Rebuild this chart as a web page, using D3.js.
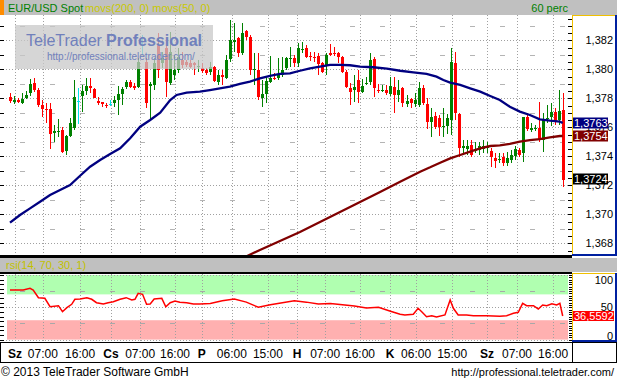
<!DOCTYPE html>
<html>
<head>
<meta charset="utf-8">
<script src="https://cdn.jsdelivr.net/npm/d3@7"></script>
<style>
  body { margin: 0; background: #fff; }
  svg { display: block; font-family: 'Liberation Sans', Arial, sans-serif; }
</style>
</head>
<body>
<svg id="chart" width="618" height="381"></svg>
<script>
// hourly EUR/USD candles
const opens = [1.37807,1.37777,1.37788,1.37770,1.37804,1.37835,1.37904,1.37857,1.37754,1.37726,
  1.37724,1.37563,1.37568,1.37581,1.37439,1.37540,1.37593,1.37780,1.37816,1.37852,
  1.37885,1.37862,1.37784,1.37772,1.37754,1.37761,1.37766,1.37788,1.37830,1.37876,
  1.37910,1.37885,1.37880,1.38168,1.38053,1.37887,1.37892,1.38168,1.38044,1.38147,
  1.37906,1.37961,1.37995,1.38064,1.38053,1.38046,1.38041,1.38014,1.38007,1.37995,
  1.37983,1.38018,1.37915,1.37961,1.37938,1.38069,1.38190,1.38214,1.38110,1.38264,
  1.38225,1.37995,1.37995,1.37800,1.37830,1.37915,1.37938,1.37938,1.37961,1.38007,
  1.38071,1.38076,1.38041,1.38133,1.38145,1.38092,1.38087,1.38092,1.38041,1.38023,
  1.38115,1.38115,1.38110,1.38087,1.37983,1.37869,1.37857,1.37926,1.37846,1.37899,
  1.37915,1.38069,1.37857,1.37850,1.37857,1.37830,1.37880,1.37823,1.37869,1.37761,
  1.37793,1.37761,1.37754,1.37869,1.37761,1.37639,1.37678,1.37662,1.37600,1.37609,
  1.37650,1.38046,1.37692,1.37455,1.37448,1.37478,1.37437,1.37443,1.37448,1.37455,
  1.37439,1.37386,1.37374,1.37397,1.37356,1.37374,1.37402,1.37443,1.37421,1.37669,
  1.37581,1.37588,1.37593,1.37512,1.37657,1.37673,1.37708,1.37650,1.37719]
const highs = [1.37835,1.37816,1.37800,1.37835,1.37852,1.37933,1.37938,1.37869,1.37788,1.37770,
  1.37770,1.37616,1.37655,1.37604,1.37547,1.37662,1.37926,1.37869,1.37892,1.37938,
  1.37938,1.37869,1.37811,1.37777,1.37766,1.37788,1.37816,1.37885,1.37880,1.37926,
  1.37926,1.37904,1.38078,1.38237,1.38078,1.37915,1.38078,1.38250,1.38119,1.38168,
  1.38259,1.38099,1.38147,1.38119,1.38064,1.38064,1.38053,1.38064,1.38041,1.38007,
  1.38053,1.38023,1.37995,1.37995,1.38099,1.38340,1.38321,1.38225,1.38317,1.38271,
  1.38237,1.38110,1.38110,1.37926,1.37949,1.38092,1.37972,1.38076,1.38087,1.38087,
  1.38156,1.38099,1.38179,1.38190,1.38168,1.38121,1.38121,1.38110,1.38053,1.38110,
  1.38175,1.38156,1.38121,1.38092,1.37995,1.37904,1.37961,1.37995,1.37931,1.37949,
  1.38110,1.38087,1.37899,1.37892,1.37892,1.37949,1.37949,1.37926,1.37880,1.37823,
  1.37800,1.37835,1.37915,1.37892,1.37800,1.37731,1.37708,1.37685,1.37731,1.37692,
  1.38145,1.38121,1.37701,1.37512,1.37512,1.37512,1.37501,1.37501,1.37512,1.37501,
  1.37455,1.37421,1.37421,1.37421,1.37432,1.37443,1.37471,1.37455,1.37673,1.37701,
  1.37628,1.37616,1.37777,1.37701,1.37754,1.37770,1.37731,1.37857,1.37835]
const lows = [1.37766,1.37761,1.37766,1.37761,1.37793,1.37816,1.37846,1.37742,1.37669,1.37628,
  1.37452,1.37501,1.37535,1.37425,1.37409,1.37535,1.37581,1.37623,1.37708,1.37823,
  1.37835,1.37800,1.37754,1.37742,1.37735,1.37749,1.37742,1.37685,1.37754,1.37864,
  1.37869,1.37857,1.37871,1.38099,1.37733,1.37650,1.37857,1.37938,1.38009,1.37811,
  1.37892,1.37926,1.37975,1.38009,1.38016,1.38009,1.37961,1.37983,1.37977,1.37961,
  1.37961,1.37915,1.37892,1.37892,1.37931,1.38053,1.38121,1.38087,1.38099,1.38202,
  1.37961,1.37892,1.37788,1.37742,1.37766,1.37904,1.37926,1.37926,1.37949,1.37995,
  1.38018,1.38018,1.38018,1.38110,1.38076,1.38059,1.38053,1.37961,1.37972,1.37961,
  1.38092,1.38092,1.38041,1.37972,1.37869,1.37754,1.37777,1.37766,1.37835,1.37892,
  1.37892,1.37811,1.37839,1.37846,1.37823,1.37816,1.37697,1.37777,1.37742,1.37742,
  1.37731,1.37742,1.37742,1.37754,1.37586,1.37535,1.37586,1.37540,1.37535,1.37554,
  1.37547,1.37650,1.37397,1.37409,1.37409,1.37397,1.37421,1.37409,1.37425,1.37421,
  1.37328,1.37317,1.37356,1.37333,1.37333,1.37352,1.37374,1.37393,1.37363,1.37577,
  1.37570,1.37577,1.37501,1.37432,1.37628,1.37609,1.37616,1.37616,1.37186]
const closes = [1.37784,1.37788,1.37775,1.37793,1.37823,1.37899,1.37857,1.37754,1.37726,1.37719,
  1.37554,1.37577,1.37575,1.37432,1.37540,1.37632,1.37811,1.37780,1.37852,1.37885,
  1.37873,1.37804,1.37766,1.37759,1.37747,1.37761,1.37788,1.37828,1.37862,1.37912,
  1.37880,1.37869,1.38053,1.38168,1.37770,1.37899,1.38041,1.37995,1.38078,1.37915,
  1.38121,1.37995,1.38087,1.38030,1.38030,1.38018,1.38030,1.38023,1.37990,1.37977,
  1.38018,1.37919,1.37961,1.37949,1.38064,1.38202,1.38202,1.38110,1.38248,1.38225,
  1.37995,1.38002,1.37807,1.37830,1.37921,1.37938,1.37931,1.37961,1.37995,1.38076,
  1.38078,1.38041,1.38145,1.38140,1.38087,1.38085,1.38080,1.38037,1.37983,1.38099,
  1.38099,1.38103,1.38087,1.37983,1.37880,1.37846,1.37880,1.37846,1.37885,1.37906,
  1.38064,1.37869,1.37850,1.37857,1.37835,1.37885,1.37823,1.37857,1.37766,1.37781,
  1.37766,1.37788,1.37869,1.37770,1.37639,1.37673,1.37600,1.37600,1.37609,1.37662,
  1.38053,1.37701,1.37455,1.37471,1.37471,1.37409,1.37443,1.37471,1.37471,1.37471,
  1.37393,1.37370,1.37381,1.37356,1.37386,1.37409,1.37448,1.37409,1.37669,1.37586,
  1.37593,1.37595,1.37512,1.37650,1.37664,1.37708,1.37639,1.37714,1.37240]

// moving averages, [candle index, value]
const ma50 = [[0,1.36942],[2.5,1.36995],[5,1.37041],[7.5,1.37087],[10,1.37133],[12.5,1.37168],
  [15,1.37202],[17.5,1.37266],[20,1.37328],[22.5,1.37374],[25,1.37416],[27.5,1.37455],
  [30,1.37524],[32.5,1.37604],[35,1.37650],[37.5,1.37701],[40,1.37788],[41.6,1.37823],
  [44.1,1.37839],[47.4,1.37846],[49.9,1.37857],[52.4,1.37869],[54.9,1.37880],[57.4,1.37899],
  [59.9,1.37915],[62.4,1.37938],[64.9,1.37954],[67.4,1.37968],[69.9,1.37972],[72.4,1.37990],
  [74.9,1.38007],[77.4,1.38018],[79.9,1.38030],[82.4,1.38030],[84.9,1.38028],[87.4,1.38018],
  [90.7,1.38014],[94.1,1.38004],[97.4,1.37990],[100.7,1.37979],[104,1.37968],[106.5,1.37949],
  [108.2,1.37926],[109.9,1.37908],[112.4,1.37892],[114.9,1.37869],[117.4,1.37846],[119.9,1.37816],
  [122.3,1.37788],[124.8,1.37742],[127.3,1.37708],[129.8,1.37685],[132.3,1.37655],[134.8,1.37646],
  [137.3,1.37639],[138,1.37630]]
const ma200 = [[58.7,1.36706],[62.4,1.36754],[67.4,1.36816],[72.4,1.36878],[77.4,1.36947],
  [82.4,1.37016],[87.4,1.37085],[92.4,1.37154],[97.4,1.37225],[99.9,1.37259],[102.4,1.37294],
  [104.9,1.37324],[107.4,1.37356],[109.9,1.37386],[112.4,1.37409],[114.9,1.37432],[117.4,1.37455],
  [119.9,1.37471],[122.3,1.37476],[124.8,1.37485],[127.3,1.37501],[129.8,1.37512],[132.3,1.37519],
  [134.8,1.37531],[137.3,1.37540],[138,1.37540]]

// rsi(14), [candle index, value]
const rsi = [[0,76.8],[3.3,76.8],[5,79.4],[5.8,76.8],[7.1,64.9],[8.7,63.9],[10,50.9],[12.1,52.5],
  [13.1,43.2],[14.2,49.4],[15.4,54.6],[16.2,62.4],[17.5,62.8],[19.2,64.9],[20.4,62.4],[21.6,57.1],
  [23.3,55.1],[24.5,57.1],[25.8,58.7],[27.5,62.4],[29,64.9],[30.4,61.3],[31.2,62.4],[32,71.7],
  [33.1,70.1],[34.1,54.6],[35,55.1],[36,62.8],[37.9,63.9],[38.9,50.9],[40,57.1],[41.2,59.8],
  [42.4,57.7],[44.1,57.1],[45.8,55.1],[47.4,55.1],[50,56],[53,60],[56,63],[59,58],[62,50],
  [65,54],[68,57],[71,60],[74,58],[77,55],[80,56],[83,54],[86,52],[89,49],[92,50],[95,44],
  [97.4,39.2],[98.6,38.1],[100.7,39.2],[101.9,48.5],[102.8,43.2],[104,35.4],[105.3,37],
  [106.5,35],[108.6,38.1],[109.9,61.3],[110.7,48.5],[111.9,38.1],[114,38.1],[115.7,37],
  [119,37],[122.3,36.1],[124,37],[125.7,40.7],[126.9,42.3],[128,56.2],[129,52.5],[130.7,52.5],
  [131.9,47.4],[133,53.6],[134,52.5],[135.3,55.6],[136.5,53.6],[137.3,56.2],[138,36.56]]

// time axis (candle index of each tick)
const dayTicks = [[1.25,'Sz'],[25.2,'Cs'],[47.9,'P'],[71.7,'H'],[94.9,'K'],[119.1,'Sz']]
const timeTicks = [[8.2,'07:00'],[17.5,'16:00'],[32.5,'07:00'],[41.2,'16:00'],[55.4,'06:00'],
  [64.4,'15:00'],[78.7,'07:00'],[87.4,'16:00'],[101.4,'06:00'],[110.4,'15:00'],
  [126.6,'07:00'],[135.6,'16:00']]
const priceTicks = [1.368, 1.370, 1.372, 1.374, 1.376, 1.378, 1.380, 1.382]
const minorTicks = [1.369, 1.371, 1.373, 1.375, 1.377, 1.379, 1.381, 1.383]

const lastMa50 = 1.3763
const lastMa200 = 1.3754
const lastClose = 1.3724
const lastRsi = 36.5592

const RIGHT = 572
const MAIN = { TOP: 15, BOTTOM: 256 }
const LOW = { TOP: 274, BOTTOM: 341 }

const svg = d3.select('#chart')
const comma = s => s.replace('.', ',')

const x = d3.scaleLinear().domain([0, opens.length - 1]).range([10, 562.7])
const y = d3.scaleLinear().domain([1.368, 1.382]).range([243.3, 40.3])
const yr = d3.scaleLinear().domain([0, 100]).range([339.6, 275])

const defs = svg.append('defs')
defs.append('clipPath').attr('id', 'clip-main')
  .append('rect').attr('x', 0).attr('y', MAIN.TOP).attr('width', RIGHT).attr('height', MAIN.BOTTOM - MAIN.TOP)
defs.append('clipPath').attr('id', 'clip-low')
  .append('rect').attr('x', 0).attr('y', LOW.TOP).attr('width', RIGHT).attr('height', LOW.BOTTOM - LOW.TOP)

svg.append('rect').attr('width', 618).attr('height', 381).attr('fill', '#fff')

// header bar
svg.append('rect').attr('x', 0).attr('y', 0).attr('width', 617).attr('height', 15).attr('fill', '#c0c0c0')
svg.append('rect').attr('x', 0).attr('y', 0).attr('width', 4).attr('height', 15).attr('fill', '#ff8c00')
svg.append('text').attr('x', 8).attr('y', 12).attr('font-size', 11).attr('fill', '#008000').text('EUR/USD Spot')
svg.append('text').attr('x', 85).attr('y', 12).attr('font-size', 11).attr('fill', '#c8c800').text('movs(200, 0) movs(50, 0)')
svg.append('text').attr('x', 568).attr('y', 12).attr('font-size', 11).attr('fill', '#008000')
  .attr('text-anchor', 'end').text('60 perc')

const allTicks = dayTicks.concat(timeTicks).map(d => d[0])

// main panel grid
const gMain = svg.append('g').attr('clip-path', 'url(#clip-main)')
gMain.selectAll('.vgrid').data(allTicks).enter().append('line')
  .attr('x1', d => Math.round(x(d)) + 0.5).attr('x2', d => Math.round(x(d)) + 0.5)
  .attr('y1', MAIN.TOP).attr('y2', MAIN.BOTTOM)
  .attr('stroke', '#a0a0a0').attr('stroke-dasharray', '1,2')
gMain.selectAll('.hgrid').data(priceTicks).enter().append('line')
  .attr('x1', 6).attr('x2', RIGHT - 4)
  .attr('y1', d => Math.round(y(d)) + 0.5).attr('y2', d => Math.round(y(d)) + 0.5)
  .attr('stroke', '#a0a0a0').attr('stroke-dasharray', '1,2')
gMain.selectAll('.mgrid').data(minorTicks).enter().append('line')
  .attr('x1', 20).attr('x2', RIGHT - 4)
  .attr('y1', d => Math.round(y(d)) + 0.5).attr('y2', d => Math.round(y(d)) + 0.5)
  .attr('stroke', '#b4b4b4').attr('stroke-dasharray', '5,25')

// candles
const candles = opens.map((o, i) => ({ i, o, h: highs[i], l: lows[i], c: closes[i] }))
const colour = d => d.c > d.o ? '#008000' : d.c < d.o ? '#ff0000' : '#00e0e8'
const gC = gMain.append('g').attr('shape-rendering', 'crispEdges')
gC.selectAll('.wick').data(candles).enter().append('line')
  .attr('x1', d => Math.round(x(d.i)) + 0.5).attr('x2', d => Math.round(x(d.i)) + 0.5)
  .attr('y1', d => y(d.h)).attr('y2', d => y(d.l))
  .attr('stroke', colour)
gC.selectAll('.body').data(candles).enter().append('rect')
  .attr('x', d => Math.round(x(d.i)) - 1)
  .attr('y', d => y(Math.max(d.o, d.c)))
  .attr('width', 3)
  .attr('height', d => Math.max(1, Math.abs(y(d.o) - y(d.c))))
  .attr('fill', colour)

// moving averages
const line = d3.line().x(d => x(d[0])).y(d => y(d[1]))
gMain.append('path').datum(ma200).attr('d', line)
  .attr('fill', 'none').attr('stroke', '#800000').attr('stroke-width', 2.3)
gMain.append('path').datum(ma50).attr('d', line)
  .attr('fill', 'none').attr('stroke', '#000080').attr('stroke-width', 2.3)

// watermark
const wm = svg.append('g')
wm.append('rect').attr('x', 15).attr('y', 25).attr('width', 198).attr('height', 44)
  .attr('fill', '#c8c8c8').attr('opacity', 0.75)
wm.append('text').attr('x', 26).attr('y', 46).attr('font-size', 16).attr('fill', '#7080bc').text('TeleTrader')
wm.append('text').attr('x', 106).attr('y', 46).attr('font-size', 16).attr('font-weight', 'bold')
  .attr('fill', '#7080bc').text('Professional')
wm.append('text').attr('x', 47).attr('y', 60).attr('font-size', 10).attr('fill', '#7080bc')
  .text('http://professional.teletrader.com/')

// left / right ticks of main panel
const leftTicks = d3.range(1.367, 1.3836, 0.001)
svg.append('g').attr('shape-rendering', 'crispEdges').selectAll('line').data(leftTicks).enter().append('line')
  .attr('x1', 0).attr('x2', 4).attr('y1', d => Math.round(y(d)) + 0.5).attr('y2', d => Math.round(y(d)) + 0.5)
  .attr('stroke', '#000').attr('stroke-width', 1.5)
const rightTicks = d3.range(1.3670, 1.3837, 0.0005)
svg.append('g').attr('shape-rendering', 'crispEdges').selectAll('line').data(rightTicks).enter().append('line')
  .attr('x1', RIGHT - 4).attr('x2', RIGHT).attr('y1', d => Math.round(y(d)) + 0.5).attr('y2', d => Math.round(y(d)) + 0.5)
  .attr('stroke', '#000')

// price axis panel
function axisPanel(top, bottom) {
  svg.append('rect').attr('x', RIGHT).attr('y', top).attr('width', 44).attr('height', bottom - top).attr('fill', '#fff')
  svg.append('line').attr('x1', RIGHT + 0.5).attr('x2', RIGHT + 0.5).attr('y1', top).attr('y2', bottom)
    .attr('stroke', '#f0c000')
  svg.append('line').attr('x1', RIGHT).attr('x2', 615).attr('y1', top + 0.5).attr('y2', top + 0.5)
    .attr('stroke', '#f0c000')
  svg.append('line').attr('x1', 616).attr('x2', 616).attr('y1', top).attr('y2', bottom + 1)
    .attr('stroke', '#0020a0').attr('stroke-width', 2)
  svg.append('line').attr('x1', RIGHT).attr('x2', 617).attr('y1', bottom).attr('y2', bottom)
    .attr('stroke', '#0020a0').attr('stroke-width', 2)
}
axisPanel(MAIN.TOP, MAIN.BOTTOM - 1)
svg.selectAll('.plabel').data(priceTicks).enter().append('text')
  .attr('x', 613).attr('y', d => y(d)).attr('dy', '0.35em')
  .attr('text-anchor', 'end').attr('font-size', 11).attr('fill', '#000')
  .text(d => comma(d3.format('.3f')(d)))

function valueBox(v, yy, fill, w) {
  svg.append('rect').attr('x', RIGHT + 1).attr('y', Math.round(yy) - 5.5).attr('width', w).attr('height', 11).attr('fill', fill)
  svg.append('text').attr('x', RIGHT + 2).attr('y', yy).attr('dy', '0.36em')
    .attr('font-size', 11).attr('fill', '#fff').text(v)
}
valueBox(comma(d3.format('.4f')(lastMa50)), y(lastMa50), '#000080', 35)
valueBox(comma(d3.format('.4f')(lastMa200)), y(lastMa200), '#800000', 35)
valueBox(comma(d3.format('.4f')(lastClose)), y(lastClose), '#000', 35)

// separators + rsi header
svg.append('rect').attr('x', 0).attr('y', 255).attr('width', RIGHT).attr('height', 3).attr('fill', '#000')
svg.append('rect').attr('x', 0).attr('y', 258).attr('width', 617).attr('height', 14).attr('fill', '#c0c0c0')
svg.append('rect').attr('x', 0).attr('y', 272).attr('width', RIGHT).attr('height', 2).attr('fill', '#000')
svg.append('text').attr('x', 6).attr('y', 269).attr('font-size', 11).attr('fill', '#c0c000').text('rsi(14, 70, 30, 1)')

// rsi panel
const gLow = svg.append('g').attr('clip-path', 'url(#clip-low)')
gLow.append('rect').attr('x', 7).attr('y', yr(100)).attr('width', 561).attr('height', yr(70) - yr(100)).attr('fill', '#b0ffb0')
gLow.append('rect').attr('x', 7).attr('y', yr(30)).attr('width', 561).attr('height', yr(0) - yr(30)).attr('fill', '#ffb0b0')
gLow.selectAll('.vgrid').data(allTicks).enter().append('line')
  .attr('x1', d => Math.round(x(d)) + 0.5).attr('x2', d => Math.round(x(d)) + 0.5)
  .attr('y1', LOW.TOP).attr('y2', LOW.BOTTOM)
  .attr('stroke', '#a0a0a0').attr('stroke-dasharray', '1,2')
gLow.selectAll('.hgrid').data([0, 50, 100]).enter().append('line')
  .attr('x1', 6).attr('x2', RIGHT - 4)
  .attr('y1', d => Math.round(yr(d)) + 0.5).attr('y2', d => Math.round(yr(d)) + 0.5)
  .attr('stroke', '#a0a0a0').attr('stroke-dasharray', '1,2')
gLow.selectAll('.mgrid').data([25, 75]).enter().append('line')
  .attr('x1', 20).attr('x2', RIGHT - 4)
  .attr('y1', d => Math.round(yr(d)) + 0.5).attr('y2', d => Math.round(yr(d)) + 0.5)
  .attr('stroke', '#a8a8a8').attr('stroke-dasharray', '5,25')
gLow.append('path').datum(rsi)
  .attr('d', d3.line().x(d => x(d[0])).y(d => yr(d[1])))
  .attr('fill', 'none').attr('stroke', '#ff0000').attr('stroke-width', 1.5)

svg.append('g').attr('shape-rendering', 'crispEdges').selectAll('line').data(d3.range(0, 100.1, 100 / 14)).enter().append('line')
  .attr('x1', 0).attr('x2', 4).attr('y1', d => Math.round(yr(d)) + 0.5).attr('y2', d => Math.round(yr(d)) + 0.5)
  .attr('stroke', '#000').attr('stroke-width', 1.5)
svg.append('g').attr('shape-rendering', 'crispEdges').selectAll('line').data(d3.range(0, 100.1, 100 / 28)).enter().append('line')
  .attr('x1', RIGHT - 3).attr('x2', RIGHT).attr('y1', d => Math.round(yr(d)) + 0.5).attr('y2', d => Math.round(yr(d)) + 0.5)
  .attr('stroke', '#000')

axisPanel(LOW.TOP - 1, LOW.BOTTOM)
svg.append('text').attr('x', 613).attr('y', yr(100)).attr('dy', '0.8em').attr('text-anchor', 'end')
  .attr('font-size', 11).text('100')
svg.append('text').attr('x', 613).attr('y', yr(50)).attr('dy', '0.35em').attr('text-anchor', 'end')
  .attr('font-size', 11).text('50')
svg.append('text').attr('x', 613).attr('y', yr(0)).attr('text-anchor', 'end')
  .attr('font-size', 11).text('0')
svg.append('rect').attr('x', RIGHT + 1).attr('y', Math.round(yr(lastRsi)) - 5).attr('width', 41).attr('height', 10).attr('fill', '#ff0000')
svg.append('text').attr('x', RIGHT + 2).attr('y', yr(lastRsi)).attr('dy', '0.36em')
  .attr('font-size', 11).attr('fill', '#fff').text(comma(d3.format('.4f')(lastRsi)))

// time axis row
svg.append('rect').attr('x', 0.5).attr('y', 342.5).attr('width', 616).attr('height', 20)
  .attr('fill', '#fff').attr('stroke', '#000')
svg.append('line').attr('x1', RIGHT + 0.5).attr('x2', RIGHT + 0.5).attr('y1', 342).attr('y2', 363).attr('stroke', '#000')
svg.selectAll('.day').data(dayTicks).enter().append('text')
  .attr('x', d => x(d[0])).attr('y', 358).attr('text-anchor', 'middle')
  .attr('font-size', 12).attr('font-weight', 'bold').text(d => d[1])
svg.selectAll('.time').data(timeTicks).enter().append('text')
  .attr('x', d => x(d[0])).attr('y', 358).attr('text-anchor', 'middle')
  .attr('font-size', 12).text(d => d[1])

// footer
svg.append('text').attr('x', 1).attr('y', 376).attr('font-size', 12).text('\u00a9 2013 TeleTrader Software GmbH')
svg.append('text').attr('x', 614).attr('y', 376).attr('font-size', 11).attr('text-anchor', 'end')
  .text('http://professional.teletrader.com/')
</script>
</body>
</html>
